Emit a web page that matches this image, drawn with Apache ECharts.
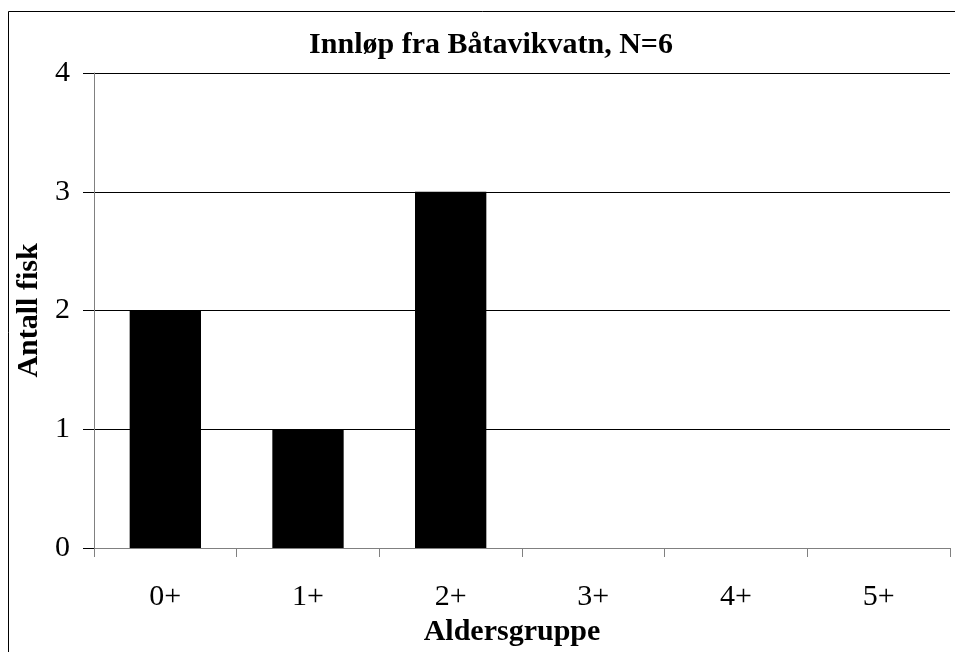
<!DOCTYPE html>
<html><head><meta charset="utf-8">
<script src="https://cdn.jsdelivr.net/npm/echarts@6/dist/echarts.min.js"></script>
<style>html,body{margin:0;padding:0;background:#fff}#c{width:955px;height:652px}</style>
</head><body><div id="c"></div>
<script>
const categories = ['0+', '1+', '2+', '3+', '4+', '5+'];
const counts = [2, 1, 3, 0, 0, 0];
const yTicks = [0, 1, 2, 3, 4];
const titleText = 'Innløp fra Båtavikvatn, N=6';
const xName = 'Aldersgruppe';
const yName = 'Antall fisk';

const FONT = '"Liberation Serif", "Times New Roman", serif';
const chart = echarts.init(document.getElementById('c'), null, {renderer: 'canvas'});
chart.setOption({
  animation: false,
  backgroundColor: '#fff',
  title: {
    text: titleText, left: 486, top: 25, textAlign: 'center',
    textStyle: {fontFamily: FONT, fontWeight: 'bold', fontSize: 30, color: '#000'}
  },
  graphic: [{
    type: 'rect', shape: {x: 8.5, y: 11.5, width: 1200, height: 1200},
    style: {fill: 'none', stroke: '#000', lineWidth: 1}, silent: true, z: 100
  }],
  grid: {left: 94, right: 5, top: 73, bottom: 104, containLabel: false},
  xAxis: {
    type: 'category', data: categories,
    name: xName, nameLocation: 'middle', nameGap: 64,
    nameTextStyle: {fontFamily: FONT, fontWeight: 'bold', fontSize: 30, color: '#000', padding: [0, 20, 0, 0]},
    axisLine: {lineStyle: {color: '#808080', width: 1}},
    axisTick: {show: true, length: 9, lineStyle: {color: '#808080'}},
    axisLabel: {fontFamily: FONT, fontSize: 30, color: '#000', margin: 34},
    splitLine: {show: false}
  },
  yAxis: {
    type: 'value', min: yTicks[0], max: yTicks[yTicks.length - 1], interval: 1,
    name: yName, nameLocation: 'middle', nameGap: 50, nameRotate: 90,
    nameTextStyle: {fontFamily: FONT, fontWeight: 'bold', fontSize: 30, color: '#000'},
    axisLine: {show: true, lineStyle: {color: '#808080', width: 1}},
    axisTick: {show: true, length: 11, lineStyle: {color: '#000'}},
    axisLabel: {fontFamily: FONT, fontSize: 30, color: '#000', margin: 24},
    splitLine: {show: true, lineStyle: {color: '#000', width: 1}}
  },
  series: [{
    type: 'bar', data: counts, barWidth: '50%',
    itemStyle: {color: '#000'}
  }]
});
</script></body></html>
